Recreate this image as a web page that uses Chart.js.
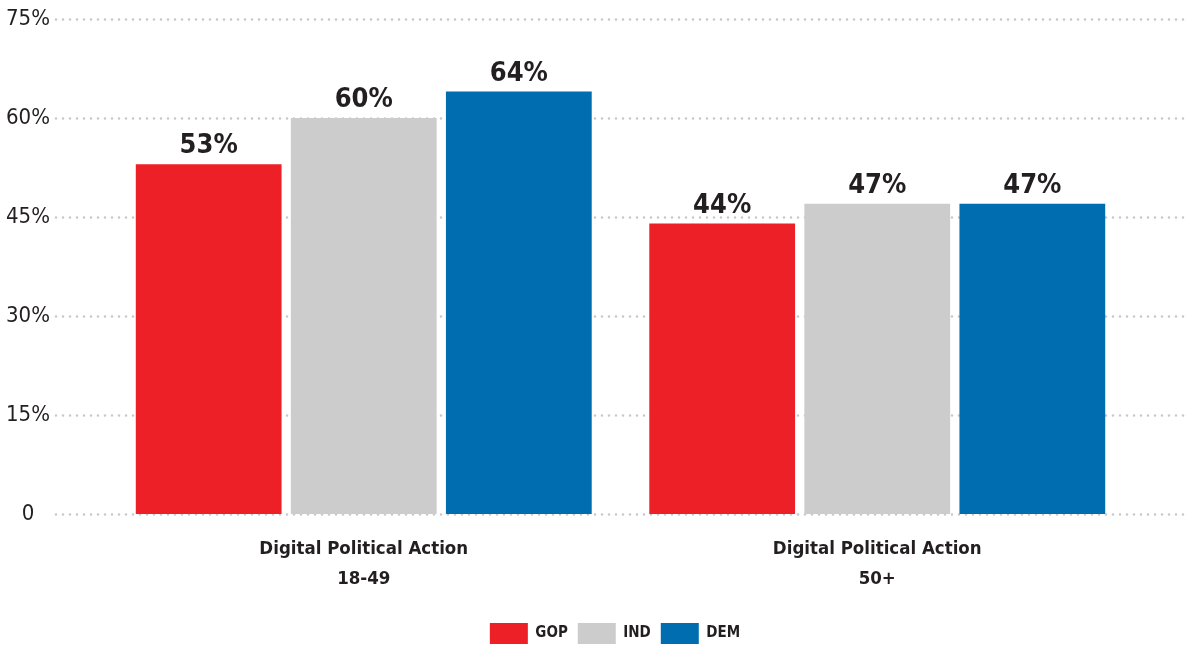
<!DOCTYPE html>
<html>
<head>
<meta charset="utf-8">
<script src="https://cdn.jsdelivr.net/npm/chart.js@4.4.1/dist/chart.umd.min.js"></script>
<style>
  html, body { margin: 0; padding: 0; background: #ffffff; }
  #wrap { width: 1196px; height: 646px; }
</style>
</head>
<body>
<div id="wrap"><canvas id="chart" width="1196" height="646"></canvas></div>
<script>
// ─── Data ─────────────────────────────────────────────────────────────────────
const categories = [
    ['Digital Political Action', '18-49'],
    ['Digital Political Action', '50+']
];
const seriesNames = ['GOP', 'IND', 'DEM'];
const gopValues = [53, 44];
const indValues = [60, 47];
const demValues = [64, 47];
const yTicks = [0, 15, 30, 45, 60, 75];

const COLORS = ['#ED1F27', '#CCCCCC', '#006DB0'];
const NARROW = "'DejaVu Sans Condensed', sans-serif";
const TEXT = '#231F20';

// ─── Dotted horizontal guides, wider than the bar area ───────────────────────
const dottedGrid = {
    id: 'dottedGrid',
    beforeDatasetsDraw(chart) {
        const ctx = chart.ctx;
        const y = chart.scales.y;
        ctx.save();
        ctx.strokeStyle = '#C8C8C8';
        ctx.lineWidth = 2.6;
        ctx.lineCap = 'round';
        ctx.setLineDash([0, 7]);
        yTicks.forEach(v => {
            const py = Math.round(y.getPixelForValue(v)) + 0.5;
            ctx.beginPath();
            ctx.moveTo(56, py);
            ctx.lineTo(1190, py);
            ctx.stroke();
        });
        ctx.restore();
    }
};

// ─── Value labels above bars ──────────────────────────────────────────────────
const valueLabels = {
    id: 'valueLabels',
    afterDatasetsDraw(chart) {
        const ctx = chart.ctx;
        ctx.save();
        ctx.fillStyle = TEXT;
        ctx.font = "bold 27px 'DejaVu Sans Condensed', sans-serif";
        ctx.textAlign = 'center';
        ctx.textBaseline = 'alphabetic';
        chart.data.datasets.forEach((ds, i) => {
            chart.getDatasetMeta(i).data.forEach((bar, j) => {
                ctx.fillText(ds.data[j] + '%', bar.x, bar.y - 11);
            });
        });
        ctx.restore();
    }
};

// fixed axis boxes so the plot area lands where we want it
const fixWidth = (w) => (s) => { s.width = w; s.paddingTop = 0; s.paddingBottom = 0; };

const datasets = [gopValues, indValues, demValues].map((vals, i) => ({
    label: seriesNames[i],
    data: vals,
    backgroundColor: COLORS[i],
    borderWidth: 0,
    categoryPercentage: 0.906,
    barPercentage: 0.94
}));

new Chart(document.getElementById('chart'), {
    type: 'bar',
    data: { labels: categories, datasets },
    options: {
        responsive: false,
        animation: false,
        events: [],
        // right padding below zero shifts the legend's centre to the right
        layout: { padding: { left: 0, right: -34, top: 19, bottom: -8 } },
        scales: {
            x: {
                grid: { display: false },
                border: { display: false },
                afterFit: (s) => { s.height = 99; s.paddingLeft = 0; s.paddingRight = 0; },
                ticks: {
                    color: TEXT,
                    padding: 12,
                    font: { family: NARROW, size: 18.5, weight: 'bold', lineHeight: 1.62 }
                }
            },
            y: {
                min: 0,
                max: 75,
                afterBuildTicks: (scale) => { scale.ticks = yTicks.map(v => ({ value: v })); },
                afterFit: fixWidth(107),
                grid: { display: false },
                border: { display: false },
                ticks: {
                    color: TEXT,
                    padding: 49,
                    crossAlign: 'center',
                    font: { family: NARROW, size: 22 },
                    callback: (v) => v === 0 ? '0' : v + '%'
                }
            },
            // empty right-hand box, keeps bars clear of the right edge
            yRight: {
                position: 'right',
                min: 0,
                max: 75,
                afterFit: fixWidth(96),
                grid: { display: false },
                border: { display: false },
                ticks: { display: false }
            }
        },
        plugins: {
            legend: {
                position: 'bottom',
                labels: {
                    boxWidth: 38,
                    boxHeight: 21,
                    padding: 10,
                    color: TEXT,
                    font: { family: NARROW, size: 15, weight: 'bold' }
                }
            },
            tooltip: { enabled: false }
        }
    },
    plugins: [dottedGrid, valueLabels]
});
</script>
</body>
</html>
